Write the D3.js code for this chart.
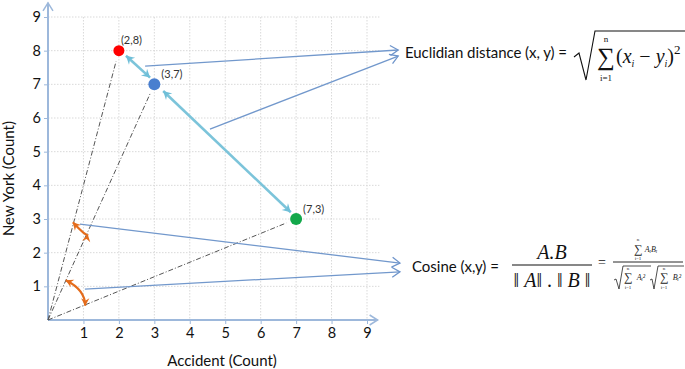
<!DOCTYPE html>
<html><head><meta charset="utf-8">
<script src="https://cdn.jsdelivr.net/npm/d3@7"></script>
<style>
html,body{margin:0;padding:0;background:#fff;}
svg{display:block;}
</style></head>
<body>
<svg id="chart" width="685" height="369"></svg>
<script>
// ---- data ----
const xTicks = [1,2,3,4,5,6,7,8,9];
const yTicks = [1,2,3,4,5,6,7,8,9];
const pointX = [2,3,7];
const pointY = [8,7,3];
const pointLabels = ["(2,8)","(3,7)","(7,3)"];
const pointColors = ["#ff0000","#4a7fcf","#12a84a"];
const xTitle = "Accident (Count)";
const yTitle = "New York (Count)";
const euclidLabel = "Euclidian distance (x, y) =";
const cosineLabel = "Cosine (x,y) =";

const svg = d3.select("#chart");
const x = d3.scaleLinear().domain([0,9]).range([48,367]);
const y = d3.scaleLinear().domain([0,9]).range([320,17]);
const axisCol = "#9db8db";
const font = "Lato, 'Open Sans', sans-serif";

// markers
const defs = svg.append("defs");
function chevron(id, col, sw, size){
  defs.append("marker").attr("id",id).attr("viewBox","-10 -6 12 12")
    .attr("refX",0).attr("refY",0).attr("markerWidth",size).attr("markerHeight",size)
    .attr("markerUnits","userSpaceOnUse").attr("orient","auto-start-reverse")
    .append("path").attr("d","M-8,-5 L0,0 L-8,5").attr("fill","none")
    .attr("stroke",col).attr("stroke-width",sw).attr("stroke-linejoin","miter");
}
function tri(id, col, size){
  defs.append("marker").attr("id",id).attr("viewBox","-10 -6 12 12")
    .attr("refX",0).attr("refY",0).attr("markerWidth",size).attr("markerHeight",size)
    .attr("markerUnits","userSpaceOnUse").attr("orient","auto-start-reverse")
    .append("path").attr("d","M-9,-5 L0,0 L-9,5 L-6,0 Z").attr("fill",col);
}
chevron("axArr", axisCol, 1.5, 12);
chevron("blueArr", "#6f95cb", 1.3, 12);
tri("tealArr", "#6fbfd8", 11);
tri("orArr", "#e46c1c", 10);

// grid
const grid = svg.append("g").attr("stroke","#d9d9d9").attr("stroke-width",1).attr("stroke-dasharray","1.5,1.5");
grid.selectAll("line.v").data(xTicks).join("line").attr("class","v")
  .attr("x1",d=>x(d)).attr("x2",d=>x(d)).attr("y1",y(9)).attr("y2",y(0));
grid.selectAll("line.h").data(yTicks).join("line").attr("class","h")
  .attr("x1",x(0)).attr("x2",x(9.35)).attr("y1",d=>y(d)).attr("y2",d=>y(d));

// axes
const xAxis = d3.axisBottom(x).tickValues(xTicks).tickSize(4).tickPadding(4).tickFormat(d3.format("d"));
const yAxis = d3.axisLeft(y).tickValues(yTicks).tickSize(4).tickPadding(3).tickFormat(d3.format("d"));
const gx = svg.append("g").attr("transform",`translate(0,${y(0)})`).call(xAxis);
const gy = svg.append("g").attr("transform",`translate(${x(0)},0)`).call(yAxis);
[gx,gy].forEach(g=>{
  g.select(".domain").remove();
  g.selectAll(".tick line").attr("stroke",axisCol);
  g.selectAll(".tick text").attr("fill","#111").style("font-family",font).style("font-size","14.5px");
});
svg.append("line").attr("x1",x(0)).attr("y1",y(0)).attr("x2",x(9.3)).attr("y2",y(0))
  .attr("stroke",axisCol).attr("stroke-width",2).attr("marker-end","url(#axArr)");
svg.append("line").attr("x1",x(0)).attr("y1",y(0)).attr("x2",x(0)).attr("y2",y(9.42))
  .attr("stroke",axisCol).attr("stroke-width",2).attr("marker-end","url(#axArr)");

svg.append("text").attr("x",222).attr("y",366).attr("text-anchor","middle")
  .style("font-family",font).style("font-size","15px").attr("fill","#111").text(xTitle);
svg.append("text").attr("transform",`translate(14,${y(4.2)}) rotate(-90)`).attr("text-anchor","middle")
  .style("font-family",font).style("font-size","15px").attr("fill","#111").text(yTitle);

// dash-dot rays from origin toward points
svg.append("g").selectAll("line").data(pointX).join("line")
  .attr("x1",x(0)).attr("y1",y(0))
  .attr("x2",(d,i)=>x(pointX[i]*0.96)).attr("y2",(d,i)=>y(pointY[i]*0.96))
  .attr("stroke","#555").attr("stroke-width",1).attr("stroke-dasharray","5,2,1,2");

// thin blue annotation arrows (data units)
const blueArrows = [
  [[2.74,7.54],[9.88,8.02]],
  [[4.57,5.67],[9.88,7.84]],
  [[0.9,2.85],[9.93,1.69]],
  [[1.04,0.92],[9.93,1.43]]
];
svg.append("g").selectAll("line").data(blueArrows).join("line")
  .attr("x1",d=>x(d[0][0])).attr("y1",d=>y(d[0][1]))
  .attr("x2",d=>x(d[1][0])).attr("y2",d=>y(d[1][1]))
  .attr("stroke","#7298cc").attr("stroke-width",1.3).attr("marker-end","url(#blueArr)");

// teal double arrows (distance)
const tealArrows = [
  [[2.2,7.85],[2.88,7.2]],
  [[3.25,6.8],[6.85,3.2]]
];
svg.append("g").selectAll("line").data(tealArrows).join("line")
  .attr("x1",d=>x(d[0][0])).attr("y1",d=>y(d[0][1]))
  .attr("x2",d=>x(d[1][0])).attr("y2",d=>y(d[1][1]))
  .attr("stroke","#7cc4da").attr("stroke-width",2.6)
  .attr("marker-start","url(#tealArr)").attr("marker-end","url(#tealArr)");

// orange angle arrows
const orangeArcs = [
  [[0.7,2.9],[1.1,2.45],[1.12,2.55]],
  [[0.5,1.18],[1.05,0.9],[1.05,0.42]]
];
svg.append("g").selectAll("path").data(orangeArcs).join("path")
  .attr("d",d=>`M${x(d[0][0])},${y(d[0][1])} Q${x(d[1][0])},${y(d[1][1])} ${x(d[2][0])},${y(d[2][1])}`)
  .attr("fill","none").attr("stroke","#e46c1c").attr("stroke-width",2.2)
  .attr("marker-start","url(#orArr)").attr("marker-end","url(#orArr)");

// points
svg.append("g").selectAll("circle").data(pointX).join("circle")
  .attr("cx",(d,i)=>x(pointX[i])).attr("cy",(d,i)=>y(pointY[i]))
  .attr("r",(d,i)=>i===0?5.5:6).attr("fill",(d,i)=>pointColors[i]);
svg.append("g").selectAll("text").data(pointLabels).join("text")
  .attr("x",(d,i)=>x(pointX[i])+(i===0?2:7)).attr("y",(d,i)=>y(pointY[i])-(i===0?7:6))
  .style("font-family",font).style("font-size","11px").attr("fill","#333").text(d=>d);

// ---- Euclidean formula ----
const serif = "'Liberation Serif','Times New Roman',serif";
svg.append("text").attr("x",405).attr("y",58).style("font-family",font).style("font-size","15px")
  .attr("textLength",162).attr("lengthAdjust","spacing")
  .attr("fill","#111").text(euclidLabel);
svg.append("path").attr("d","M574,57 L579,53 L586,80 L595,31 L685,31")
  .attr("fill","none").attr("stroke","#111").attr("stroke-width",1.1);
svg.append("text").attr("x",606).attr("y",65).attr("text-anchor","middle")
  .style("font-family",serif).style("font-size","25px").attr("fill","#111").text("∑");
svg.append("text").attr("x",606).attr("y",42).attr("text-anchor","middle")
  .style("font-family",serif).style("font-size","9px").attr("fill","#111").text("n");
svg.append("text").attr("x",606).attr("y",81).attr("text-anchor","middle")
  .style("font-family",serif).style("font-size","9px").attr("fill","#111").text("i=1");
const eu = svg.append("text").attr("x",616).attr("y",63).style("font-family",serif)
  .style("font-size","20px").attr("fill","#111");
eu.append("tspan").text("(");
eu.append("tspan").style("font-style","italic").text("x");
eu.append("tspan").style("font-style","italic").style("font-size","10px").attr("dy",4).text("i");
eu.append("tspan").attr("dy",-4).text(" − ");
eu.append("tspan").style("font-style","italic").text("y");
eu.append("tspan").style("font-style","italic").style("font-size","10px").attr("dy",4).text("i");
eu.append("tspan").attr("dy",-4).text(")");
eu.append("tspan").style("font-size","13px").attr("dy",-9).text("2");

// ---- Cosine formula ----
svg.append("text").attr("x",412).attr("y",272).style("font-family",font).style("font-size","15px")
  .attr("fill","#111").text(cosineLabel);
svg.append("text").attr("x",552).attr("y",259).attr("text-anchor","middle")
  .style("font-family",serif).style("font-style","italic").style("font-size","20px").attr("fill","#111").text("A.B");
svg.append("line").attr("x1",512).attr("x2",592).attr("y1",265).attr("y2",265).attr("stroke","#111").attr("stroke-width",1.1);
const den = svg.append("text").attr("x",552).attr("y",287).attr("text-anchor","middle")
  .style("font-family",serif).style("font-size","20px").attr("fill","#111");
den.append("tspan").text("‖ ");
den.append("tspan").style("font-style","italic").text("A");
den.append("tspan").text("‖ . ‖ ");
den.append("tspan").style("font-style","italic").text("B");
den.append("tspan").text(" ‖");
svg.append("text").attr("x",602).attr("y",267).attr("text-anchor","middle")
  .style("font-family",serif).style("font-size","14px").attr("fill","#111").text("=");
svg.append("line").attr("x1",613).attr("x2",683).attr("y1",262).attr("y2",262).attr("stroke","#111").attr("stroke-width",0.9);
function small(xp,yp,size,txt,style){
  svg.append("text").attr("x",xp).attr("y",yp).attr("text-anchor","middle")
   .style("font-family",serif).style("font-size",size+"px").style("font-style",style||"normal").attr("fill","#222").text(txt);
}
// numerator
small(638,253,12,"∑"); small(638,241,5,"n"); small(638,260,5,"i=1");
small(651,252,8,"A\u1D62B\u1D62","italic");
// denominator
svg.append("path").attr("d","M614,280 L616,279 L619,289 L623,266 L651,266 M650,280 L652,279 L654,289 L658,266 L684,266")
  .attr("fill","none").attr("stroke","#222").attr("stroke-width",0.8);
small(628,281,12,"∑"); small(628,270,5,"n"); small(628,289,5,"i=1");
small(641,280,8,"A\u1D62²","italic");
small(664,281,12,"∑"); small(664,270,5,"n"); small(664,289,5,"i=1");
small(677,280,8,"B\u1D62²","italic");
</script>
</body></html>
